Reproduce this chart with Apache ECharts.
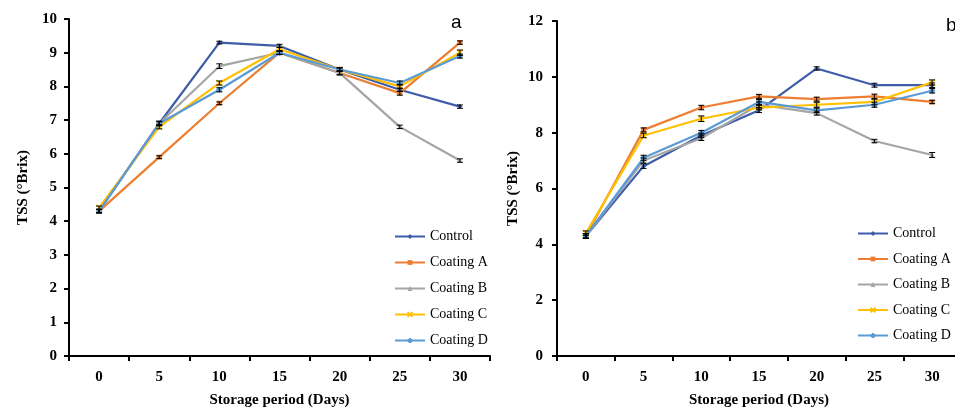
<!DOCTYPE html>
<html>
<head>
<meta charset="utf-8">
<script src="https://cdn.jsdelivr.net/npm/echarts@6/dist/echarts.min.js"></script>
<style>html,body{margin:0;padding:0;background:#fff;overflow:hidden}#c{width:970px;height:413px}</style>
</head>
<body>
<div id="c"></div>
<script>
const days = ['0','5','10','15','20','25','30'];
const names = ['Control','Coating A','Coating B','Coating C','Coating D'];
const colors = ['#3F5CA8','#ED7D31','#A5A5A5','#FFC000','#5B9BD5'];
const yTicksA = [0,1,2,3,4,5,6,7,8,9,10];
const yTicksB = [0,2,4,6,8,10,12];

// Panel a values
const aControl = [4.3, 6.9, 9.3, 9.2, 8.5, 7.9, 7.4];
const aCoatA   = [4.3, 5.9, 7.5, 9.0, 8.4, 7.8, 9.3];
const aCoatB   = [4.3, 6.9, 8.6, 9.0, 8.4, 6.8, 5.8];
const aCoatC   = [4.4, 6.8, 8.1, 9.1, 8.5, 8.0, 9.0];
const aCoatD   = [4.3, 6.9, 7.9, 9.0, 8.5, 8.1, 8.9];
// Panel a error bars
const aErrControl = [0.05, 0.05, 0.04, 0.05, 0.05, 0.05, 0.05];
const aErrCoatA   = [0.05, 0.04, 0.04, 0.05, 0.05, 0.06, 0.05];
const aErrCoatB   = [0.05, 0.06, 0.07, 0.05, 0.06, 0.05, 0.05];
const aErrCoatC   = [0.05, 0.06, 0.06, 0.06, 0.05, 0.06, 0.08];
const aErrCoatD   = [0.05, 0.07, 0.06, 0.05, 0.05, 0.06, 0.06];

// Panel b values
const bControl = [4.3, 6.8, 7.9, 8.8, 10.3, 9.7, 9.7];
const bCoatA   = [4.3, 8.1, 8.9, 9.3, 9.2, 9.3, 9.1];
const bCoatB   = [4.3, 7.0, 7.8, 9.0, 8.7, 7.7, 7.2];
const bCoatC   = [4.4, 7.9, 8.5, 8.9, 9.0, 9.1, 9.8];
const bCoatD   = [4.3, 7.1, 8.0, 9.1, 8.8, 9.0, 9.5];
// Panel b error bars
const bErrControl = [0.08, 0.08, 0.08, 0.08, 0.06, 0.07, 0.08];
const bErrCoatA   = [0.08, 0.07, 0.08, 0.07, 0.07, 0.08, 0.06];
const bErrCoatB   = [0.08, 0.09, 0.08, 0.10, 0.07, 0.06, 0.09];
const bErrCoatC   = [0.08, 0.08, 0.10, 0.08, 0.09, 0.10, 0.09];
const bErrCoatD   = [0.08, 0.09, 0.08, 0.09, 0.08, 0.09, 0.08];

const aVals = [aControl, aCoatA, aCoatB, aCoatC, aCoatD];
const aErrs = [aErrControl, aErrCoatA, aErrCoatB, aErrCoatC, aErrCoatD];
const bVals = [bControl, bCoatA, bCoatB, bCoatC, bCoatD];
const bErrs = [bErrControl, bErrCoatA, bErrCoatB, bErrCoatC, bErrCoatD];

const xPath = 'path://M0,0L10,10M10,0L0,10';
const starPath = 'path://M5,0L5,10M0,5L10,5M1.5,1.5L8.5,8.5M8.5,1.5L1.5,8.5';
const symbols = ['diamond','rect','triangle', xPath, starPath];

const serif = '"Liberation Serif","Times New Roman",serif';

function errSeries(vals, errs, gi) {
  return {
    type: 'custom', xAxisIndex: gi, yAxisIndex: gi, silent: true, z: 5,
    data: vals.map((v, i) => [i, v, errs[i]]),
    renderItem: function (params, api) {
      const x = api.value(0), v = api.value(1), e = api.value(2);
      const hi = api.coord([x, v + e]), lo = api.coord([x, v - e]);
      const w = 3;
      const st = { stroke: '#000', lineWidth: 1 };
      return { type: 'group', children: [
        { type: 'line', shape: { x1: hi[0], y1: hi[1], x2: lo[0], y2: lo[1] }, style: st },
        { type: 'line', shape: { x1: hi[0]-w, y1: hi[1], x2: hi[0]+w, y2: hi[1] }, style: st },
        { type: 'line', shape: { x1: lo[0]-w, y1: lo[1], x2: lo[0]+w, y2: lo[1] }, style: st }
      ]};
    }
  };
}

const series = [];
[aVals, bVals].forEach((vals, gi) => {
  vals.forEach((d, k) => {
    series.push({
      name: names[k], type: 'line', xAxisIndex: gi, yAxisIndex: gi,
      data: d, symbol: symbols[k], symbolSize: k >= 3 ? 6 : 5, showSymbol: true,
      lineStyle: { color: colors[k], width: 2.2 },
      itemStyle: { color: colors[k], borderColor: colors[k], borderWidth: k >= 3 ? 1.5 : 0 },
      z: 3 + k * 0.1
    });
  });
  const errs = gi === 0 ? aErrs : bErrs;
  vals.forEach((d, k) => series.push(errSeries(d, errs[k], gi)));
});

function xAx(gi) {
  return {
    type: 'category', gridIndex: gi, data: days, boundaryGap: true,
    name: 'Storage period (Days)', nameLocation: 'middle', nameGap: 37,
    nameTextStyle: { fontFamily: serif, fontWeight: 'bold', fontSize: 15, color: '#000' },
    axisLine: { lineStyle: { color: '#000', width: 2 } },
    axisTick: { show: true, inside: false, length: 5, alignWithLabel: false, lineStyle: { color: '#000', width: 2 } },
    axisLabel: { fontFamily: serif, fontWeight: 'bold', fontSize: 15, color: '#000', margin: 14 },
    splitLine: { show: false }
  };
}
function yAx(gi, ticks, gap, margin) {
  return {
    type: 'value', gridIndex: gi, min: ticks[0], max: ticks[ticks.length - 1],
    interval: ticks[1] - ticks[0],
    name: 'TSS (°Brix)', nameLocation: 'middle', nameGap: gap, nameRotate: 90,
    nameTextStyle: { fontFamily: serif, fontWeight: 'bold', fontSize: 15, color: '#000' },
    axisLine: { show: true, lineStyle: { color: '#000', width: 2 } },
    axisTick: { show: true, inside: false, length: 5, lineStyle: { color: '#000', width: 2 } },
    axisLabel: { fontFamily: serif, fontWeight: 'bold', fontSize: 15, color: '#000', margin: margin },
    splitLine: { show: false }
  };
}

const legendBase = {
  orient: 'vertical', data: names, itemWidth: 30, itemHeight: 6, itemGap: 11,
  textStyle: { fontFamily: serif, fontSize: 14, color: '#000', lineHeight: 15 }
};

const option = {
  animation: false,
  backgroundColor: '#fff',
  grid: [
    { left: 69, top: 19, width: 421, height: 339 },
    { left: 557, top: 21, width: 404, height: 336 }
  ],
  xAxis: [xAx(0), xAx(1)],
  yAxis: [yAx(0, yTicksA, 38, 12), yAx(1, yTicksB, 36, 14)],
  legend: [
    Object.assign({}, legendBase, { left: 389, top: 224 }),
    Object.assign({}, legendBase, { left: 852, top: 221, itemGap: 10.5 })
  ],
  graphic: [
    { type: 'text', left: 451, top: 13, style: { text: 'a', font: '19px "Liberation Sans", Arial, sans-serif', fill: '#000' } },
    { type: 'text', left: 946, top: 16, style: { text: 'b', font: '19px "Liberation Sans", Arial, sans-serif', fill: '#000' } }
  ],
  series: series
};

const chart = echarts.init(document.getElementById('c'), null, { renderer: 'canvas' });
chart.setOption(option);
</script>
</body>
</html>
